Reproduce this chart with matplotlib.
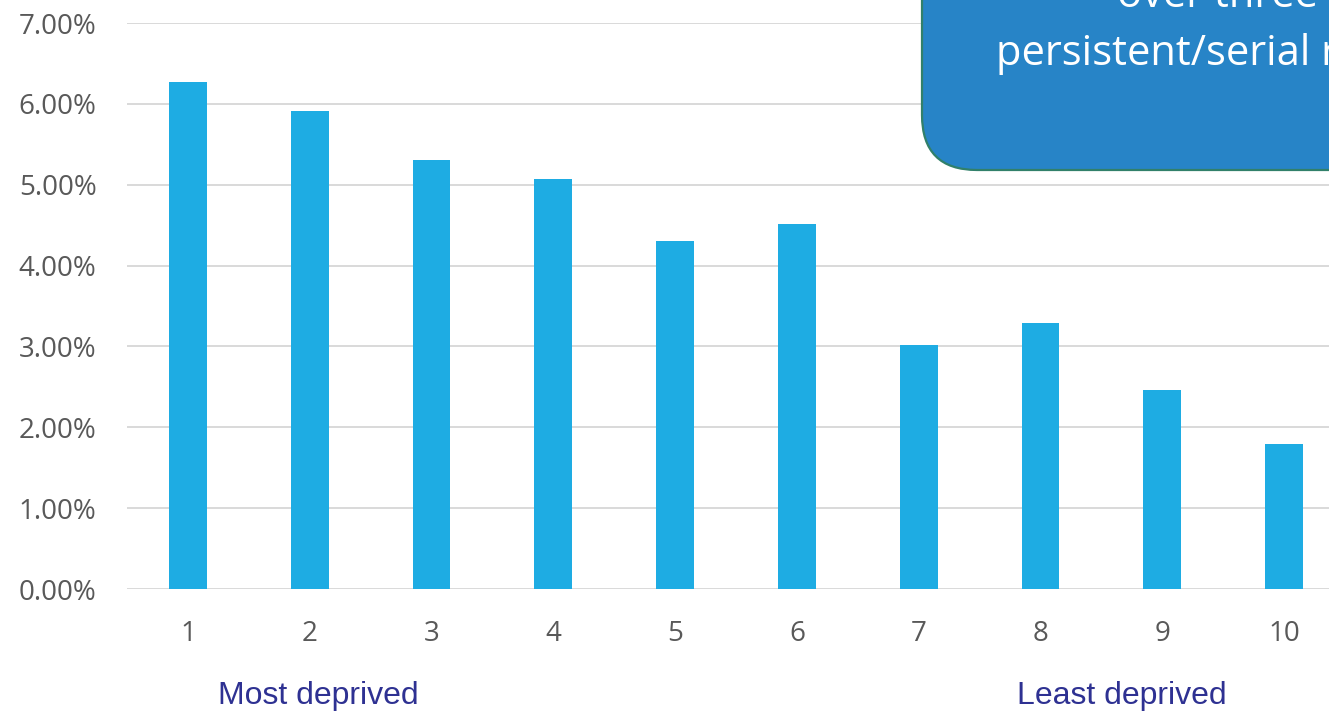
import matplotlib.pyplot as plt
from matplotlib.patches import FancyBboxPatch
from matplotlib.ticker import PercentFormatter

# share of people by deprivation decile (1 = most deprived)
deciles = ["1", "2", "3", "4", "5", "6", "7", "8", "9", "10"]
rates = [0.0627, 0.0591, 0.0530, 0.0507, 0.0430, 0.0452, 0.0302, 0.0329, 0.0246, 0.0179]
y_ticks = [0.00, 0.01, 0.02, 0.03, 0.04, 0.05, 0.06, 0.07]

W, H = 1329, 714
fig = plt.figure(figsize=(W / 100, H / 100), dpi=100)

# axes runs past the right edge of the canvas, as on the slide
ax_left, ax_right = 127, 1345
ax_top, ax_bottom = 23, 589
ax = fig.add_axes([ax_left / W, 1 - ax_bottom / H,
                   (ax_right - ax_left) / W, (ax_bottom - ax_top) / H])

x = list(range(len(deciles)))
ax.bar(x, rates, width=0.31, color="#1EACE3", zorder=2)

ax.set_xlim(-0.5, len(deciles) - 0.5)
ax.set_ylim(0, 0.07)
ax.set_yticks(y_ticks)
ax.yaxis.set_major_formatter(PercentFormatter(1.0, decimals=2))
ax.set_xticks(x)
ax.set_xticklabels(deciles)

ax.grid(axis="y", color="#D9D9D9", linewidth=1.4, zorder=0)
for side in ["top", "right", "left", "bottom"]:
    ax.spines[side].set_visible(False)
ax.tick_params(length=0, labelsize=20, labelcolor="#595959")
ax.tick_params(axis="y", pad=22)
ax.tick_params(axis="x", pad=22)
for lab in ax.get_xticklabels() + ax.get_yticklabels():
    lab.set_fontfamily("Open Sans")

fig.text(318 / W, 1 - 696 / H, "Most deprived", ha="center", va="center",
         fontsize=23, color="#2E3192", family="Liberation Sans")
fig.text(1122 / W, 1 - 696 / H, "Least deprived", ha="center", va="center",
         fontsize=23, color="#2E3192", family="Liberation Sans")

# callout box in the top right corner
box = FancyBboxPatch((9.22, 7.14 - 1.70), 6.0, 3.0,
                     boxstyle="round,pad=0,rounding_size=0.55",
                     transform=fig.dpi_scale_trans,
                     facecolor="#2784C7", edgecolor="#31806A", linewidth=1.6,
                     zorder=5)
fig.patches.append(box)
fig.text(1117 / W, 1 - 7 / H, "over three years", ha="left", va="baseline",
         fontsize=30, color="white", family="Open Sans", zorder=6)
fig.text(996 / W, 1 - 65 / H, "persistent/serial rough sleeping",
         ha="left", va="baseline",
         fontsize=30, color="white", family="Open Sans", zorder=6)

fig.savefig("out.png", dpi=100)
